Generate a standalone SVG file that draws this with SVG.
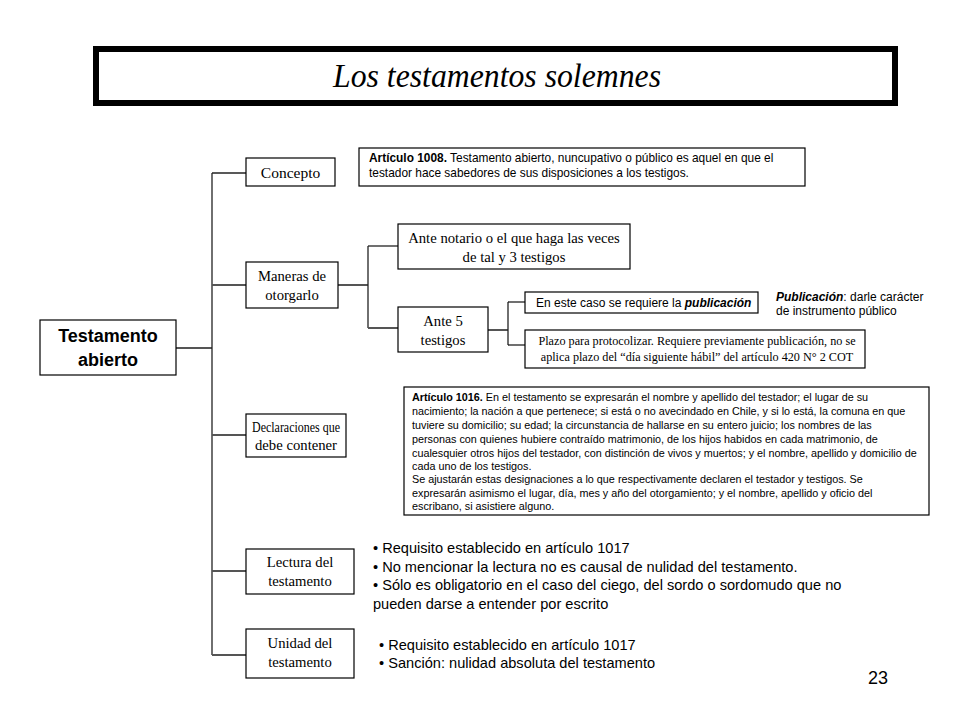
<svg xmlns="http://www.w3.org/2000/svg" width="960" height="720" viewBox="0 0 960 720">
<style>
.box{fill:#fff;stroke:#000;stroke-width:1.2}
.serif{font-family:"Liberation Serif","Times New Roman",serif;fill:#000}
.sans{font-family:"Liberation Sans",Arial,sans-serif;fill:#000}
.ln{fill:none;stroke:#222;stroke-width:1.3}
.lg{fill:none;stroke:#555;stroke-width:2}
</style>
<rect width="960" height="720" fill="#fff"/>
<g id="title">
<rect x="96" y="49" width="799" height="54" fill="#fff" stroke="#000" stroke-width="6"/>
<text x="333" y="87" class="serif" font-size="34" font-style="italic" textLength="328" lengthAdjust="spacingAndGlyphs">Los testamentos solemnes</text>
</g>
<g id="connectors">
<path class="lg" d="M176 348H212"/>
<path class="ln" d="M212 173V655"/>
<path class="ln" d="M212 173H246"/>
<path class="lg" d="M212 285H246"/>
<path class="lg" d="M212 435H246"/>
<path class="lg" d="M212 571H246"/>
<path class="lg" d="M212 655H246"/>
<path class="lg" d="M338 285H368"/>
<path class="ln" d="M368 246V328"/>
<path class="ln" d="M368 246H398"/>
<path class="lg" d="M368 328H398"/>
<path class="lg" d="M488 330H508"/>
<path class="ln" d="M508 302V345"/>
<path class="ln" d="M508 302H525"/>
<path class="ln" d="M508 345H525"/>
</g>
<g id="testamento-abierto">
<rect class="box" x="40" y="320" width="136" height="55"/>
<text class="sans" font-size="18" font-weight="bold" text-anchor="middle"><tspan x="108" y="342">Testamento</tspan><tspan x="108" y="366">abierto</tspan></text>
</g>
<g id="concepto">
<rect class="box" x="246" y="158" width="89" height="28"/>
<text class="serif" font-size="15.5" x="290.5" y="178" text-anchor="middle">Concepto</text>
</g>
<g id="art1008">
<rect class="box" x="359" y="148" width="446" height="38"/>
<text class="sans" font-size="11.9"><tspan x="369" y="162"><tspan font-weight="bold">Artículo 1008.</tspan> Testamento abierto, nuncupativo o público es aquel en que el</tspan><tspan x="369" y="177">testador hace sabedores de sus disposiciones a los testigos.</tspan></text>
</g>
<g id="maneras">
<rect class="box" x="246" y="262" width="92" height="46"/>
<text class="serif" font-size="14.7" text-anchor="middle"><tspan x="292" y="281">Maneras de</tspan><tspan x="292" y="300">otorgarlo</tspan></text>
</g>
<g id="ante-notario">
<rect class="box" x="398" y="224" width="232" height="45"/>
<text class="serif" font-size="14.7" text-anchor="middle"><tspan x="514" y="243">Ante notario o el que haga las veces</tspan><tspan x="514" y="262">de tal y 3 testigos</tspan></text>
</g>
<g id="ante-5">
<rect class="box" x="398" y="307" width="90" height="45"/>
<text class="serif" font-size="14.7" text-anchor="middle"><tspan x="443" y="326">Ante 5</tspan><tspan x="443" y="345">testigos</tspan></text>
</g>
<g id="publicacion">
<rect class="box" x="525" y="292" width="233" height="21"/>
<text class="sans" font-size="12" x="536" y="307">En este caso se requiere la <tspan font-weight="bold" font-style="italic">publicación</tspan></text>
</g>
<g id="publicacion-nota">
<text class="sans" font-size="12"><tspan x="776" y="301"><tspan font-weight="bold" font-style="italic">Publicación</tspan>:  darle carácter</tspan><tspan x="776" y="315">de instrumento público</tspan></text>
</g>
<g id="plazo">
<rect class="box" x="525" y="330" width="340" height="38"/>
<text class="serif" font-size="12.2" text-anchor="middle"><tspan x="697" y="345">Plazo para protocolizar. Requiere previamente publicación, no se</tspan><tspan x="697" y="361">aplica plazo del “día siguiente hábil” del artículo 420 N° 2 COT</tspan></text>
</g>
<g id="declaraciones">
<rect class="box" x="246" y="414" width="100" height="43"/>
<text class="serif" font-size="14"><tspan x="252" y="432" textLength="88" lengthAdjust="spacingAndGlyphs">Declaraciones que</tspan><tspan x="255" y="450" textLength="82" lengthAdjust="spacingAndGlyphs">debe contener</tspan></text>
</g>
<g id="art1016">
<rect class="box" x="404" y="387" width="525" height="128"/>
<text class="sans" font-size="10.8">
<tspan x="412" y="401"><tspan font-weight="bold">Artículo 1016.</tspan> En el testamento se expresarán el nombre y apellido del testador; el lugar de su</tspan>
<tspan x="412" y="415">nacimiento; la nación a que pertenece; si está o no avecindado en Chile, y si lo está, la comuna en que</tspan>
<tspan x="412" y="429">tuviere su domicilio; su edad; la circunstancia de hallarse en su entero juicio; los nombres de las</tspan>
<tspan x="412" y="443">personas con quienes hubiere contraído matrimonio, de los hijos habidos en cada matrimonio, de</tspan>
<tspan x="412" y="457">cualesquier otros hijos del testador, con distinción de vivos y muertos; y el nombre, apellido y domicilio de</tspan>
<tspan x="412" y="470">cada uno de los testigos.</tspan>
<tspan x="412" y="483">Se ajustarán estas designaciones a lo que respectivamente declaren el testador y testigos. Se</tspan>
<tspan x="412" y="497">expresarán asimismo el lugar, día, mes y año del otorgamiento; y el nombre, apellido y oficio del</tspan>
<tspan x="412" y="510">escribano, si asistiere alguno.</tspan>
</text>
</g>
<g id="lectura">
<rect class="box" x="246" y="549" width="108" height="45"/>
<text class="serif" font-size="14.7" text-anchor="middle"><tspan x="300" y="567">Lectura del</tspan><tspan x="300" y="586">testamento</tspan></text>
</g>
<g id="lectura-notas">
<text class="sans" font-size="14.6"><tspan x="373" y="553">• Requisito establecido en artículo 1017</tspan><tspan x="373" y="572">• No mencionar la lectura no es causal de nulidad del testamento.</tspan><tspan x="373" y="590">• Sólo es obligatorio en el caso del ciego, del sordo o sordomudo que no</tspan><tspan x="373" y="609">pueden darse a entender por escrito</tspan></text>
</g>
<g id="unidad">
<rect class="box" x="246" y="629" width="108" height="49"/>
<text class="serif" font-size="14.7" text-anchor="middle"><tspan x="300" y="648">Unidad del</tspan><tspan x="300" y="667">testamento</tspan></text>
</g>
<g id="unidad-notas">
<text class="sans" font-size="14.6"><tspan x="379" y="650">• Requisito establecido en artículo 1017</tspan><tspan x="379" y="668">• Sanción: nulidad absoluta del testamento</tspan></text>
</g>
<g id="page-number">
<text class="sans" font-size="18" x="868" y="684">23</text>
</g>
</svg>
